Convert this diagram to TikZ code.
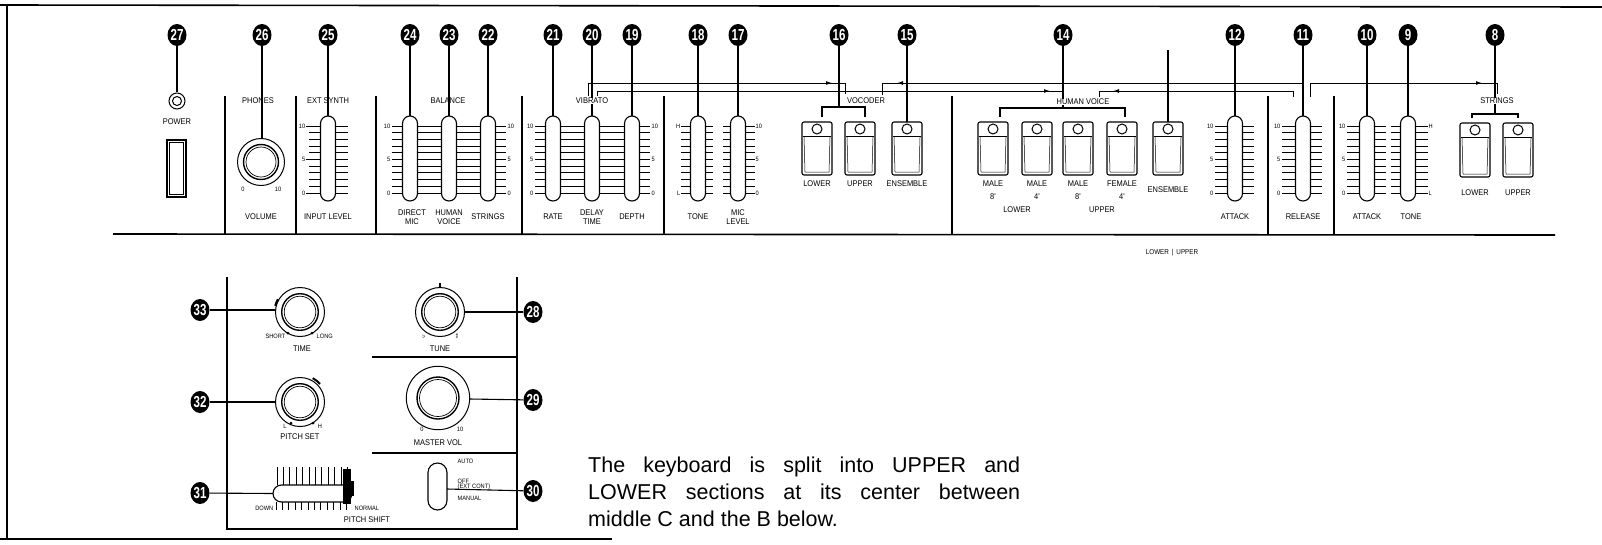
\documentclass[tikz,border=0pt]{standalone}
\usepackage{fontspec}
\setmainfont{Liberation Sans}
\newfontfamily\lblfont[FakeStretch=0.9]{Liberation Sans}
\newfontfamily\badgefont[FakeStretch=0.72]{Liberation Sans}
\usetikzlibrary{arrows.meta,shapes.geometric}
\newcommand{\tickrow}[2]{\foreach \k in {0,...,10}{\draw[tick] (#1,126+6.7*\k) -- (#2,126+6.7*\k);}}
\newcommand{\slidercap}[1]{\draw[slidecap] (#1-7.5,116) rectangle (#1+7.5,201);}
\newcommand{\lscale}[1]{\node[sml,anchor=east] at (#1,126) {10};\node[sml,anchor=east] at (#1,159.5) {5};\node[sml,anchor=east] at (#1,193) {0};}
\newcommand{\rscale}[1]{\node[sml,anchor=west] at (#1,126) {10};\node[sml,anchor=west] at (#1,159.5) {5};\node[sml,anchor=west] at (#1,193) {0};}
\newcommand{\rocker}[3]{%
 \draw[btn] (#1-15,#2) rectangle (#1+15,#3);
 \draw[line width=1pt] (#1,#2+7) circle[radius=5pt];
 \draw[line width=0.8pt] (#1-14,#2+14) -- (#1+14,#2+14);
 \draw[line width=0.5pt] (#1-13,#2+15) -- (#1-12,#3-3) -- (#1+12,#3-3) -- (#1+13,#2+15);}
\newcommand{\knob}[4]{%
 \draw[line width=1pt] (#1,#2) circle[radius=#3pt];
 \draw[line width=1.4pt] (#1,#2) circle[radius=#4pt];
 \draw[line width=0.7pt] (#1,#2) circle[radius=#4pt-2.5pt];}
\begin{document}
\begin{tikzpicture}[x=1pt,y=-1pt,
  badge/.style={ellipse, fill=black, minimum width=19pt, minimum height=22pt, inner sep=0pt, text=white, font=\badgefont\bfseries\fontsize{16}{16}\selectfont},
  lbl/.style={inner sep=0pt, align=center, font=\lblfont\fontsize{8.3}{8.8}\selectfont},
  sml/.style={inner sep=0.5pt, font=\lblfont\fontsize{6.3}{6.5}\selectfont},
  leader/.style={line width=1.1pt},
  frame/.style={line width=1.6pt},
  divider/.style={line width=1.2pt},
  tick/.style={line width=0.9pt},
  slidecap/.style={draw, line width=1.1pt, fill=white, rounded corners=7.5pt},
  route/.style={line width=1pt},
  flow/.style={line width=1pt, -{Latex[length=6pt,width=4pt]}},
  btn/.style={draw, line width=1.1pt, rounded corners=2pt, fill=white},
]
\useasboundingbox (0,0) rectangle (1602,544);
% frame
\draw[frame] (0,5) -- (1602,7);
\draw[frame] (7,5) -- (7,539);
\draw[frame] (0,539) -- (612,539);
\draw[frame] (113,234) -- (1555,235);
\foreach \x in {225,296,376,522,664,952,1268,1334} \draw[divider] (\x,96) -- (\x,234);
% badges
\foreach \n/\x in {27/177,26/262,25/328,24/410,23/449,22/488,21/553,20/592,19/632,18/698,17/738,16/839,15/907,14/1063,12/1235,11/1303,10/1367,9/1408,8/1495}
  \node[badge] (b\n) at (\x,35) {\n};
% power
\draw[leader] (b27) -- (177,92);
\draw[line width=1pt] (177,101) circle[radius=8pt];
\draw[line width=1pt] (177,101) circle[radius=4.5pt];
\node[lbl] at (177,122) {POWER};
\draw[line width=1.2pt] (167,140) rectangle (186,197);
\draw[line width=0.8pt] (169.5,142.5) rectangle (183.5,194.5);
% phones volume
\draw[leader] (b26) -- (262,138.5);
\knob{261}{162}{23.5}{17.5}
\node[lbl] at (258,101) {PHONES};
\node[lbl] at (261,217) {VOLUME};
\node[sml] at (243,189) {0};
\node[sml] at (278,189) {10};
% ext synth
\tickrow{309}{348}
\draw[tick] (306,126) -- (309,126);\draw[tick] (306,159.5) -- (309,159.5);\draw[tick] (306,193) -- (309,193);
\lscale{306}
\slidercap{328}
\draw[leader] (b25) -- (328,116);
\node[lbl] at (328,101) {EXT SYNTH};
\node[lbl] at (328,217) {INPUT LEVEL};
% balance
\tickrow{392}{506}
\lscale{391}\rscale{507}
\foreach \x in {410,449,488}{\slidercap{\x}}
\draw[leader] (b24) -- (410,116);
\draw[leader] (b23) -- (449,116);
\draw[leader] (b22) -- (488,116);
\node[lbl] at (448,101) {BALANCE};
\node[lbl] at (412,217) {DIRECT\\MIC};
\node[lbl] at (449,217) {HUMAN\\VOICE};
\node[lbl] at (488,217) {STRINGS};
% vibrato
\tickrow{535}{650}
\lscale{534}\rscale{651}
\foreach \x in {553,592,632}{\slidercap{\x}}
\draw[leader] (b21) -- (553,116);
\draw[leader] (b20) -- (592,116);
\draw[leader] (b19) -- (632,116);
\node[lbl,fill=white,inner sep=0.5pt] at (592,101) {VIBRATO};
\node[lbl] at (553,217) {RATE};
\node[lbl] at (592,217) {DELAY\\TIME};
\node[lbl] at (632,217) {DEPTH};
% tone / mic level
\tickrow{681}{713}\tickrow{723}{755}
\node[sml,anchor=east] at (681,126) {H};\node[sml,anchor=east] at (681,193) {L};
\rscale{755}
\slidercap{698}\slidercap{738}
\draw[leader] (b18) -- (698,116);
\draw[leader] (b17) -- (738,116);
\node[lbl] at (698,217) {TONE};
\node[lbl] at (738,217) {MIC\\LEVEL};
% vocoder
\draw[leader] (b16) -- (839,107);
\draw[leader] (822,117) -- (822,107) -- (865,107) -- (865,117);
\draw[leader] (b15) -- (907,122);
\rocker{817}{122}{175}\rocker{860}{122}{175}\rocker{907}{122}{175}
\node[lbl] at (817,184) {LOWER};
\node[lbl] at (860,184) {UPPER};
\node[lbl] at (907,184) {ENSEMBLE};
% human voice
\draw[leader] (b14) -- (1063,108);
\draw[leader] (1000,117) -- (1000,108) -- (1125,108) -- (1125,117);
\draw[leader] (1168,50) -- (1168,122);
\rocker{993}{122}{175}\rocker{1037}{122}{175}\rocker{1078}{122}{175}\rocker{1122}{122}{175}\rocker{1168}{122}{175}
\node[lbl] at (993,184) {MALE};\node[lbl] at (993,197) {8'};
\node[lbl] at (1037,184) {MALE};\node[lbl] at (1037,197) {4'};
\node[lbl] at (1078,184) {MALE};\node[lbl] at (1078,197) {8'};
\node[lbl] at (1122,184) {FEMALE};\node[lbl] at (1122,197) {4'};
\node[lbl] at (1168,190) {ENSEMBLE};
\node[lbl] at (1017,210) {LOWER};
\node[lbl] at (1102,210) {UPPER};
% attack / release
\tickrow{1215}{1254}\lscale{1214}\slidercap{1235}
\draw[leader] (b12) -- (1235,116);
\node[lbl] at (1235,217) {ATTACK};
\tickrow{1282}{1322}\lscale{1281}\slidercap{1303}
\draw[line width=2.2pt] (b11) -- (1303,116);
\node[lbl] at (1303,217) {RELEASE};
% strings attack tone
\tickrow{1347}{1386}\tickrow{1391}{1428}
\lscale{1346}
\node[sml,anchor=west] at (1428,126) {H};\node[sml,anchor=west] at (1428,193) {L};
\slidercap{1367}\slidercap{1408}
\draw[leader] (b10) -- (1367,116);
\draw[leader] (b9) -- (1408,116);
\node[lbl] at (1367,217) {ATTACK};
\node[lbl] at (1411,217) {TONE};
% strings
\draw[leader] (b8) -- (1495,114);
\draw[leader] (1472,118) -- (1472,114) -- (1518,114) -- (1518,118);
\rocker{1475}{123}{177}\rocker{1518}{123}{177}
\node[lbl] at (1475,193) {LOWER};
\node[lbl] at (1518,193) {UPPER};
% routing
\draw[route] (588,96) -- (588,83) -- (845,83) -- (845,94);
\draw[flow] (818,83) -- (832,83);
\draw[route] (597,96) -- (597,91) -- (1063,91);
\draw[flow] (1035,91) -- (1050,91);
\draw[route] (882,95) -- (882,83) -- (1302,83);
\draw[flow] (912,83) -- (897,83);
\draw[route] (1293,97) -- (1293,91) -- (1099,91) -- (1099,97);
\draw[flow] (1128,91) -- (1113,91);
\draw[route] (1310,97) -- (1310,83) -- (1497,83) -- (1497,94);
\draw[flow] (1468,83) -- (1482,83);
\node[lbl,fill=white,inner sep=0.5pt] at (866,101) {VOCODER};
\node[lbl,fill=white,inner sep=0.5pt] at (1083,102) {HUMAN VOICE};
\node[lbl,fill=white,inner sep=0.5pt] at (1497,101) {STRINGS};
\node[lbl,font=\lblfont\fontsize{7}{7}\selectfont] at (1172,253) {LOWER \,|\, UPPER};
% lower panel
\draw[divider] (227,277) -- (227,529) -- (517,529) -- (517,277);
\draw[divider] (372,357) -- (517,357);
\draw[divider] (372,453) -- (517,453);
\node[badge] (b33) at (200,310) {33};
\node[badge] (b32) at (200,402) {32};
\node[badge] (b31) at (200,493) {31};
\node[badge] (b28) at (533,312) {28};
\node[badge] (b29) at (533,400) {29};
\node[badge] (b30) at (533,491) {30};
% time
\knob{300}{312}{24.5}{18.3}
\draw[line width=2pt] (300,312) ++(150:25.5pt) arc[start angle=150, end angle=166, radius=25.5pt];
\fill (288,333) circle[radius=1.5pt];\fill (312,333) circle[radius=1.5pt];
\node[sml,anchor=east] at (286,336) {SHORT};
\node[sml,anchor=west] at (316,336) {LONG};
\node[lbl] at (302,349) {TIME};
\draw[leader] (b33) -- (275.5,310);
% tune
\knob{440}{312}{24.5}{18.3}
\draw[line width=1.5pt] (440,283) -- (440,287);
\node[sml] at (424,336) {$\flat$};
\node[sml] at (457,336) {$\sharp$};
\node[lbl] at (440,349) {TUNE};
\draw[leader] (b28) -- (464.5,312);
% pitch set
\knob{300}{402}{24.5}{18.3}
\draw[line width=2pt] (300,402) ++(42:27pt) arc[start angle=42, end angle=62, radius=27pt];
\fill (291,423) circle[radius=1.5pt];\fill (313,423) circle[radius=1.5pt];
\node[sml] at (285,426) {L};
\node[sml] at (320,426) {H};
\node[lbl] at (300,437) {PITCH SET};
\draw[leader] (b32) -- (275.5,402);
% master vol
\knob{438}{398}{31.7}{21}
\node[sml] at (422,429) {0};
\node[sml] at (460,429) {10};
\node[lbl] at (438,443) {MASTER VOL};
\draw[leader] (b29) -- (469.7,399);
% pitch shift
\foreach \i in {0,...,11}{\draw[tick] (277+6.4*\i,467) -- (277+6.4*\i,485);\draw[tick] (276+6.4*\i,502) -- (276+6.4*\i,510);}
\draw[line width=1.1pt, fill=white, rounded corners=8.5pt] (273,485) rectangle (352,502);
\fill (343,469) rectangle (351,504);
\fill (350,481) rectangle (354,496);
\draw[leader] (b31) -- (273,493.5);
\node[sml,anchor=east] at (274,508) {DOWN};
\node[sml,anchor=west] at (354,508) {NORMAL};
\node[lbl] at (367,520) {PITCH SHIFT};
% switch 30
\draw[line width=1.1pt, rounded corners=9.5pt] (428,463) rectangle (447,510);
\node[sml,anchor=west] at (457,461) {AUTO};
\node[sml,anchor=west] at (457,481) {OFF};
\node[sml,anchor=west] at (457,487) {(EXT CONT)};
\node[sml,anchor=west] at (457,498) {MANUAL};
\draw[leader] (b30) -- (447,489);
% paragraph
\begin{scope}[every node/.style={anchor=base west, inner sep=0pt, font=\fontsize{21.5}{26}\selectfont}]
\node (p1) at (588,472) {\makebox[432pt][s]{The keyboard is split into UPPER and}};
\node (p2) at (588,499) {\makebox[432pt][s]{LOWER sections at its center between}};
\node (p3) at (588,526) {middle C and the B below.};
\end{scope}
\end{tikzpicture}
\end{document}
